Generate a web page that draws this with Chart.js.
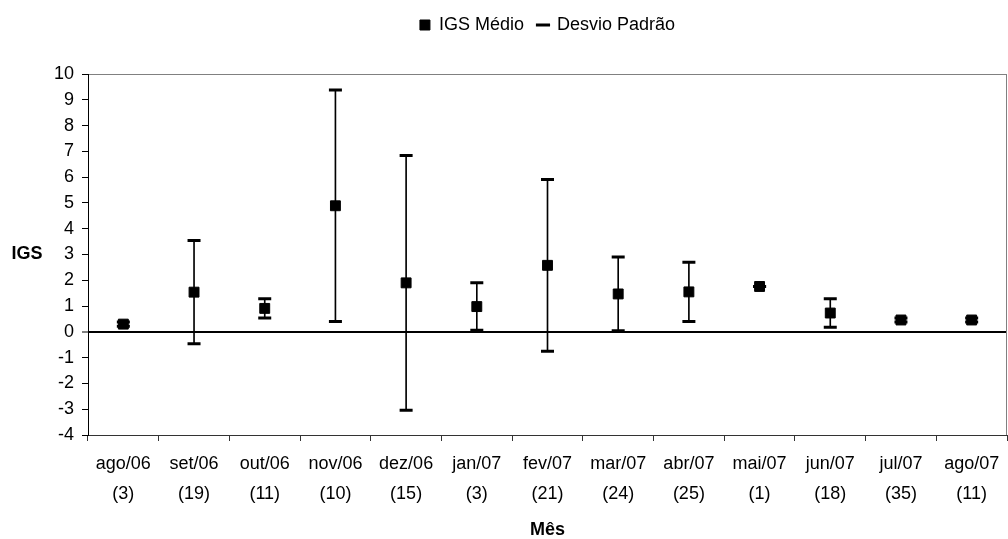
<!DOCTYPE html>
<html>
<head>
<meta charset="utf-8">
<script src="https://cdn.jsdelivr.net/npm/chart.js@4.4.1/dist/chart.umd.min.js"></script>
<style>
  html, body { margin: 0; padding: 0; background: #ffffff; overflow: hidden; }
  #wrap { width: 1008px; height: 539px; }
</style>
</head>
<body>
<div id="wrap"><canvas id="chart" width="1008" height="539"></canvas></div>
<script>
// Monthly mean IGS with standard deviation; sample size per month in brackets
const months = ['ago/06', 'set/06', 'out/06', 'nov/06', 'dez/06', 'jan/07', 'fev/07',
                'mar/07', 'abr/07', 'mai/07', 'jun/07', 'jul/07', 'ago/07'];
const sampleSizes = [3, 19, 11, 10, 15, 3, 21, 24, 25, 1, 18, 35, 11];
const igsMean = [0.30, 1.54, 0.91, 4.89, 1.90, 0.98, 2.58, 1.47, 1.55, 1.76, 0.73, 0.46, 0.46];
const igsSd   = [0.08, 2.00, 0.37, 4.49, 4.94, 0.92, 3.33, 1.43, 1.15, 0.00, 0.55, 0.08, 0.08];
const yMin = -4;
const yMax = 10;
const yStep = 1;

const FONT = "'Liberation Sans', Arial, sans-serif";
const FONT_SIZE = 18;

const categoryLabels = months.map((m, i) => [m, '(' + sampleSizes[i] + ')']);
const upperLimits = igsMean.map((m, i) => m + igsSd[i]);
const lowerLimits = igsMean.map((m, i) => m - igsSd[i]);
const sdRanges = igsMean.map((m, i) => [lowerLimits[i], upperLimits[i]]);

// Right-hand frame edge and the horizontal "IGS" axis caption
const decorations = {
  id: 'decorations',
  beforeDatasetsDraw(chart) {
    const { ctx, chartArea: { right, top, bottom } } = chart;
    ctx.save();
    ctx.strokeStyle = '#808080';
    ctx.lineWidth = 1;
    ctx.beginPath();
    ctx.moveTo(right - 0.5, top);
    ctx.lineTo(right - 0.5, bottom);
    ctx.stroke();
    ctx.restore();
  },
  afterDraw(chart) {
    const { ctx, chartArea: { top, bottom } } = chart;
    ctx.save();
    ctx.fillStyle = '#000';
    ctx.font = 'bold ' + FONT_SIZE + 'px ' + FONT;
    ctx.textAlign = 'center';
    ctx.textBaseline = 'middle';
    ctx.fillText('IGS', 27, (top + bottom) / 2);
    ctx.restore();
  }
};

new Chart(document.getElementById('chart'), {
  type: 'bar',
  data: {
    labels: categoryLabels,
    datasets: [
      {
        type: 'line',
        label: 'IGS Médio',
        data: igsMean,
        showLine: false,
        pointStyle: 'rect',
        pointRadius: 7,
        pointBorderWidth: 1,
        pointBackgroundColor: '#000',
        pointBorderColor: '#000',
        backgroundColor: '#000',
        borderColor: '#000',
        borderWidth: 1,
        order: 0
      },
      {
        type: 'line',
        label: 'Desvio Padrão',
        data: upperLimits,
        showLine: false,
        pointStyle: 'line',
        pointRadius: 6.5,
        pointBorderWidth: 3,
        pointBorderColor: '#000',
        borderColor: '#000',
        backgroundColor: '#000',
        borderWidth: 3,
        order: 1
      },
      {
        type: 'line',
        label: 'sd-lower',
        data: lowerLimits,
        showLine: false,
        pointStyle: 'line',
        pointRadius: 6.5,
        pointBorderWidth: 3,
        pointBorderColor: '#000',
        borderColor: '#000',
        borderWidth: 3,
        order: 2
      },
      {
        type: 'bar',
        label: 'sd-range',
        data: sdRanges,
        barThickness: 1,
        backgroundColor: '#000',
        borderWidth: 0,
        order: 3
      }
    ]
  },
  options: {
    responsive: false,
    devicePixelRatio: 1,
    animation: false,
    events: [],
    layout: { autoPadding: false, padding: { top: 2, right: 1, bottom: 0, left: 0 } },
    plugins: {
      tooltip: { enabled: false },
      legend: {
        position: 'top',
        fullSize: false,
        weight: 1000,
        labels: {
          usePointStyle: true,
          boxHeight: 10,
          boxWidth: 10,
          padding: 14,
          color: '#000',
          font: { family: FONT, size: FONT_SIZE },
          filter: item => item.datasetIndex < 2
        }
      },
      title: {
        display: true,
        text: '',
        weight: 500,
        padding: 0,
        font: { family: FONT, size: FONT_SIZE, lineHeight: '30px' }
      }
    },
    scales: {
      x: {
        type: 'category',
        offset: true,
        grid: {
          offset: true,
          drawOnChartArea: false,
          tickLength: 6,
          color: '#333',
          tickColor: '#333'
        },
        border: { color: '#333', width: 1 },
        ticks: {
          color: '#000',
          padding: 8,
          maxRotation: 0,
          autoSkip: false,
          font: { family: FONT, size: FONT_SIZE, lineHeight: '30px' }
        },
        title: {
          display: true,
          text: 'Mês',
          color: '#000',
          padding: { top: 0, bottom: 0 },
          font: { family: FONT, size: FONT_SIZE, weight: 'bold', lineHeight: 1 }
        },
        afterFit: scale => {
          scale.height = 104;
          scale.paddingLeft = 0;
          scale.paddingRight = 0;
        }
      },
      y: {
        min: yMin,
        max: yMax,
        ticks: {
          stepSize: yStep,
          color: '#000',
          padding: 8,
          font: { family: FONT, size: FONT_SIZE }
        },
        grid: {
          color: c => c.tick.value === 0 ? '#000' : (c.tick.value === yMax ? '#808080' : 'rgba(0,0,0,0)'),
          lineWidth: c => c.tick.value === 0 ? 2 : 1,
          tickColor: '#000',
          tickWidth: 1,
          tickLength: 6
        },
        border: { color: '#000', width: 1 },
        afterFit: scale => { scale.width = 88; }
      }
    }
  },
  plugins: [decorations]
});
</script>
</body>
</html>
